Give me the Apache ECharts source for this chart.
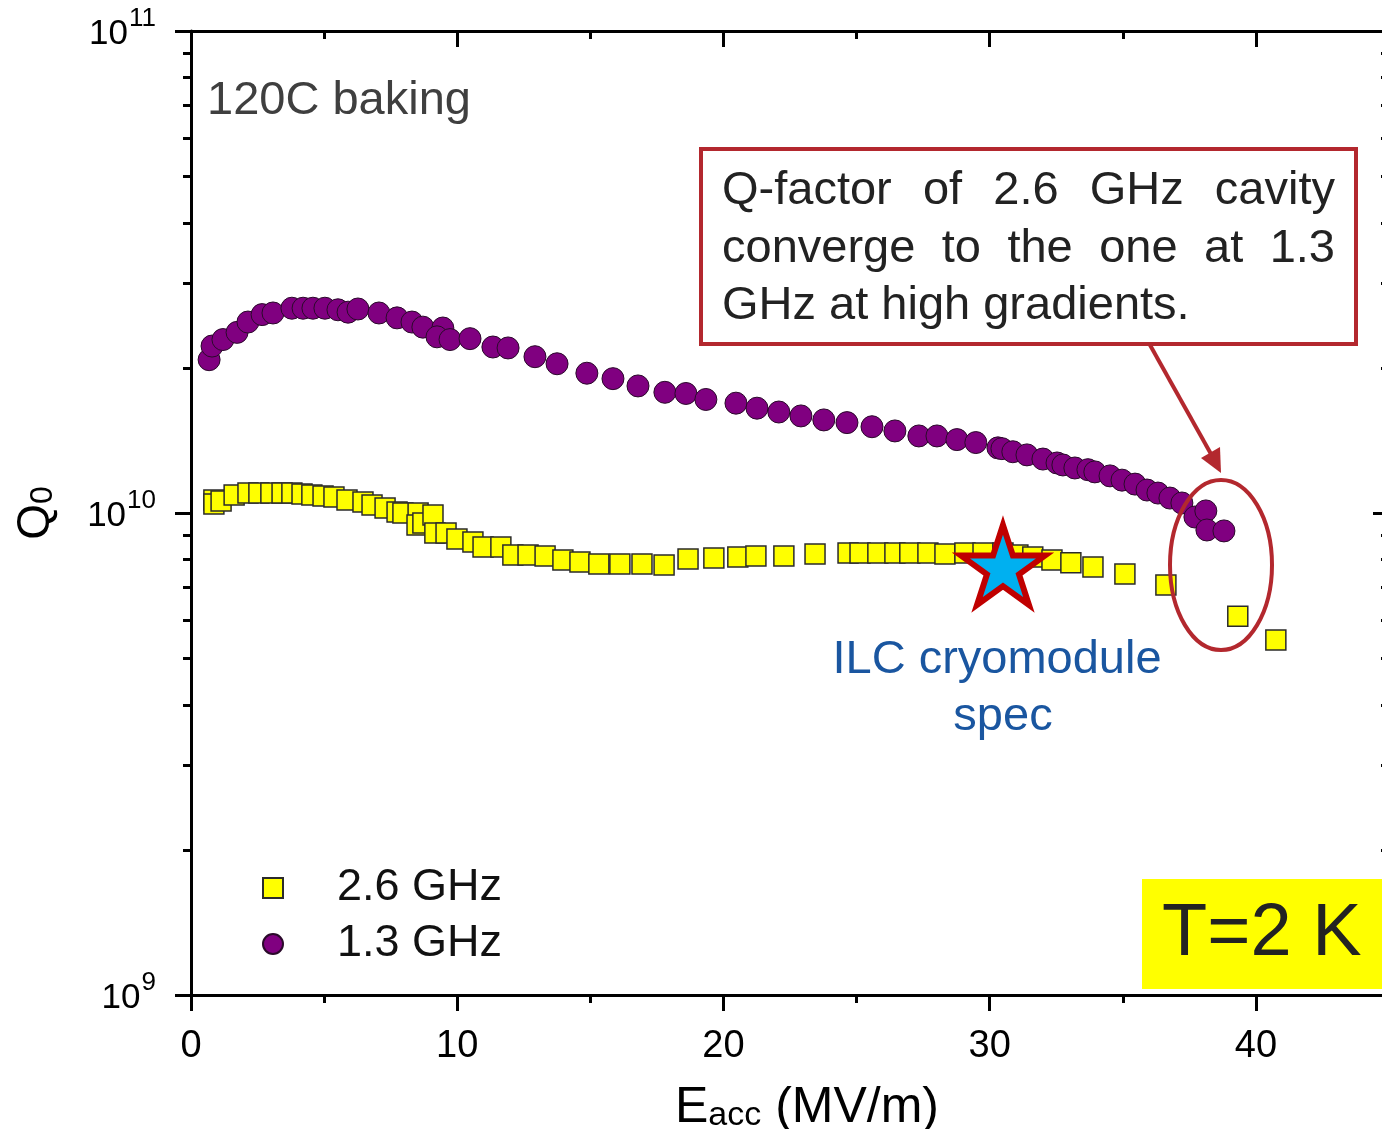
<!DOCTYPE html>
<html>
<head>
<meta charset="utf-8">
<script src="https://cdn.jsdelivr.net/npm/echarts@6/dist/echarts.min.js"></script>
<style>
html,body{margin:0;padding:0;background:#fff;}
#chart{width:1382px;height:1129px;}
</style>
</head>
<body>
<div id="chart"></div>
<script>
// ---------------- data ----------------
const SERIES_NAMES = ['2.6 GHz', '1.3 GHz'];

// 2.6 GHz cavity: Eacc (MV/m) and Q0
const E_26 = [0.86,0.86,1.13,1.62,2.14,2.55,3.00,3.42,3.79,4.17,4.54,4.96,5.37,5.86,6.46,6.80,7.29,7.74,7.96,8.53,
  8.49,8.71,9.09,9.16,9.58,9.99,10.59,10.97,11.64,12.09,12.66,13.30,13.97,14.61,15.32,16.11,16.94,17.77,18.67,19.64,
  20.54,21.22,22.27,23.44,24.68,25.13,25.80,26.44,27.00,27.68,28.32,29.07,29.75,30.50,31.06,31.62,32.34,33.05,33.88,
  35.08,36.62,39.32,40.75];
const Q_26 = [10.64e9,10.44e9,10.59e9,10.9e9,11.0e9,11.0e9,11.0e9,11.0e9,11.0e9,10.95e9,10.9e9,10.85e9,10.8e9,10.64e9,
  10.54e9,10.39e9,10.24e9,10.05e9,10.0e9,10.0e9,9.44e9,9.53e9,9.9e9,9.09e9,9.09e9,8.83e9,8.71e9,8.50e9,8.50e9,8.18e9,
  8.18e9,8.14e9,7.99e9,7.91e9,7.84e9,7.84e9,7.84e9,7.80e9,8.03e9,8.07e9,8.10e9,8.14e9,8.14e9,8.22e9,8.26e9,8.26e9,
  8.26e9,8.26e9,8.26e9,8.26e9,8.22e9,8.26e9,8.26e9,8.26e9,8.18e9,8.10e9,7.99e9,7.88e9,7.73e9,7.47e9,7.09e9,6.11e9,5.45e9];

// 1.3 GHz cavity: Eacc (MV/m) and Q0
const E_13 = [0.68,0.79,1.20,1.73,2.14,2.67,3.08,3.79,4.21,4.58,5.03,5.52,5.90,6.27,7.06,7.74,8.30,8.71,9.46,9.24,
  9.73,10.48,11.34,11.91,12.92,13.75,14.87,15.85,16.79,17.80,18.59,19.34,20.47,21.26,22.08,22.91,23.77,24.64,25.58,
  26.44,27.34,28.02,28.77,29.48,30.31,30.46,30.87,31.40,32.00,32.53,32.75,33.20,33.69,33.95,34.52,34.97,35.46,35.91,
  36.32,36.77,37.22,37.71,38.12,38.16,38.80];
const Q_13 = [2.08e10,2.22e10,2.29e10,2.37e10,2.49e10,2.58e10,2.60e10,2.66e10,2.66e10,2.66e10,2.66e10,2.64e10,2.61e10,
  2.65e10,2.60e10,2.54e10,2.49e10,2.43e10,2.42e10,2.32e10,2.29e10,2.30e10,2.21e10,2.20e10,2.11e10,2.04e10,1.95e10,
  1.90e10,1.835e10,1.78e10,1.77e10,1.72e10,1.69e10,1.65e10,1.62e10,1.59e10,1.56e10,1.54e10,1.51e10,1.48e10,1.445e10,
  1.445e10,1.42e10,1.40e10,1.365e10,1.36e10,1.34e10,1.32e10,1.294e10,1.27e10,1.258e10,1.24e10,1.23e10,1.217e10,
  1.194e10,1.17e10,1.148e10,1.116e10,1.10e10,1.074e10,1.049e10,0.981e10,1.01e10,0.922e10,0.918e10];

// ILC cryomodule spec point (star)
const ILC_SPEC = [30.5, 7.8e9];

// axis ticks
const X_MAJOR = [0, 10, 20, 30, 40];
const X_MINOR = [5, 15, 25, 35, 45];
const Y_MAJOR = [1e9, 1e10, 1e11];
const Y_MINOR = [2e9,3e9,4e9,5e9,6e9,7e9,8e9,9e9,2e10,3e10,4e10,5e10,6e10,7e10,8e10,9e10];

// ---------------- chart ----------------
const FONT = "'Liberation Sans', Arial, Helvetica, sans-serif";
const RED = '#B3282E';

function zip(a, b) { return a.map((v, i) => [v, b[i]]); }

function starPath() {
  let d = '';
  for (let i = 0; i < 10; i++) {
    const ang = (-90 + i * 36) * Math.PI / 180;
    const r = i % 2 ? 38.2 : 100;
    d += (i ? 'L' : 'M') + (r * Math.cos(ang)).toFixed(2) + ' ' + (r * Math.sin(ang)).toFixed(2);
  }
  return 'path://' + d + 'Z';
}

const measureCtx = document.createElement('canvas').getContext('2d');
function justified(words, x0, x1, y, font, color) {
  measureCtx.font = font;
  const w = words.map(s => measureCtx.measureText(s).width);
  const total = w.reduce((a, b) => a + b, 0);
  const gap = words.length > 1 ? (x1 - x0 - total) / (words.length - 1) : 0;
  let x = x0;
  return words.map((s, i) => {
    const el = { type: 'text', x: x, y: y, z: 20,
      style: { text: s, font: font, fill: color, textAlign: 'left', textVerticalAlign: 'middle' } };
    x += w[i] + gap;
    return el;
  });
}

function textEl(text, x, y, size, color, align) {
  return { type: 'text', x: x, y: y, z: 20,
    style: { text: text, font: size + 'px ' + FONT, fill: color, textAlign: align || 'left', textVerticalAlign: 'middle' } };
}

const tickLine = { color: '#000', width: 3 };
const baseLog = { type: 'log', logBase: 10, min: 1e9, max: 1e11, splitLine: { show: false }, minorTick: { show: false } };
const baseX = { type: 'value', min: 0, max: 45, splitLine: { show: false }, minorTick: { show: false } };

const boxFont = '47px ' + FONT;

const option = {
  animation: false,
  backgroundColor: '#fff',
  grid: { left: 191, top: 31, right: -7, bottom: 134, containLabel: false, outerBoundsMode: 'none' },
  legend: {
    data: SERIES_NAMES, orient: 'vertical', left: 257, top: 858,
    itemWidth: 20, itemHeight: 20, itemGap: 6, selectedMode: false,
    textStyle: { fontSize: 45, lineHeight: 46, color: '#111', fontFamily: FONT, padding: [4, 0, 0, 49] }
  },
  xAxis: [
    Object.assign({}, baseX, {
      position: 'bottom',
      axisLine: { show: true, onZero: false, lineStyle: tickLine },
      axisTick: { show: true, length: 16, customValues: X_MAJOR, lineStyle: tickLine },
      axisLabel: { show: true, customValues: X_MAJOR, fontSize: 38, color: '#000', fontFamily: FONT, margin: 33 },
      name: '{e|E}{s|acc}{e| (MV/m)}', nameLocation: 'middle', nameGap: 74,
      nameTextStyle: { padding: [0, 0, 0, 34],
        rich: {
          e: { fontSize: 50, lineHeight: 58, fontFamily: FONT, color: '#000', verticalAlign: 'bottom' },
          s: { fontSize: 34, lineHeight: 30, padding: [28, 0, 0, 0], fontFamily: FONT, color: '#000', verticalAlign: 'bottom' }
        } }
    }),
    Object.assign({}, baseX, {
      position: 'bottom',
      axisLine: { show: false, onZero: false },
      axisTick: { show: true, length: 8, customValues: X_MINOR, lineStyle: tickLine },
      axisLabel: { show: false }
    }),
    Object.assign({}, baseX, {
      position: 'top',
      axisLine: { show: true, onZero: false, lineStyle: tickLine },
      axisTick: { show: true, inside: true, length: 16, customValues: X_MAJOR, lineStyle: tickLine },
      axisLabel: { show: false }
    }),
    Object.assign({}, baseX, {
      position: 'top',
      axisLine: { show: false, onZero: false },
      axisTick: { show: true, inside: true, length: 8, customValues: X_MINOR, lineStyle: tickLine },
      axisLabel: { show: false }
    })
  ],
  yAxis: [
    Object.assign({}, baseLog, {
      position: 'left',
      axisLine: { show: true, onZero: false, lineStyle: tickLine },
      axisTick: { show: true, length: 16, customValues: Y_MAJOR, lineStyle: tickLine },
      axisLabel: {
        show: true, customValues: Y_MAJOR, margin: 35,
        formatter: function (v) { return '{b|10}{s|' + Math.round(Math.log10(v)) + '}'; },
        rich: {
          b: { fontSize: 35, lineHeight: 42, fontFamily: FONT, color: '#000', verticalAlign: 'bottom' },
          s: { fontSize: 26, lineHeight: 22, padding: [0, 0, 20, 1], fontFamily: FONT, color: '#000', verticalAlign: 'bottom' }
        }
      },
      name: '{q|Q}{s|0}', nameLocation: 'middle', nameGap: 132, nameRotate: 90,
      nameTextStyle: {
        rich: {
          q: { fontSize: 46, lineHeight: 58, fontFamily: FONT, color: '#000', verticalAlign: 'bottom' },
          s: { fontSize: 32, lineHeight: 30, padding: [28, 0, 0, 0], fontFamily: FONT, color: '#000', verticalAlign: 'bottom' }
        }
      }
    }),
    Object.assign({}, baseLog, {
      position: 'left',
      axisLine: { show: false, onZero: false },
      axisTick: { show: true, length: 8, customValues: Y_MINOR, lineStyle: tickLine },
      axisLabel: { show: false }
    }),
    Object.assign({}, baseLog, {
      position: 'right',
      axisLine: { show: true, onZero: false, lineStyle: tickLine },
      axisTick: { show: true, inside: true, length: 16, customValues: Y_MAJOR, lineStyle: tickLine },
      axisLabel: { show: false }
    }),
    Object.assign({}, baseLog, {
      position: 'right',
      axisLine: { show: false, onZero: false },
      axisTick: { show: true, inside: true, length: 8, customValues: Y_MINOR, lineStyle: tickLine },
      axisLabel: { show: false }
    })
  ],
  series: [
    {
      name: SERIES_NAMES[0], type: 'scatter', xAxisIndex: 0, yAxisIndex: 0,
      symbol: 'rect', symbolSize: 20, data: zip(E_26, Q_26), z: 3,
      itemStyle: { color: '#FFFF00', borderColor: '#2b2b2b', borderWidth: 1.5, opacity: 1 }
    },
    {
      name: SERIES_NAMES[1], type: 'scatter', xAxisIndex: 0, yAxisIndex: 0,
      symbol: 'circle', symbolSize: 22, data: zip(E_13, Q_13), z: 3,
      itemStyle: { color: '#800080', borderColor: '#2a0a2a', borderWidth: 1, opacity: 1 }
    },
    {
      name: 'ILC cryomodule spec', type: 'scatter', xAxisIndex: 0, yAxisIndex: 0,
      symbol: starPath(), symbolKeepAspect: true, symbolSize: 84, data: [ILC_SPEC], z: 5,
      itemStyle: { color: '#00B0F0', borderColor: '#C00000', borderWidth: 6, borderJoin: 'miter', opacity: 1 }
    }
  ],
  graphic: [].concat(
    [
      textEl('120C baking', 207, 101, 47, '#3f3f3f'),
      { type: 'rect', z: 19, shape: { x: 701, y: 149, width: 655, height: 195 },
        style: { fill: '#fff', stroke: RED, lineWidth: 4 } },
      { type: 'line', z: 19, shape: { x1: 1150, y1: 345, x2: 1211, y2: 454 },
        style: { stroke: RED, lineWidth: 4 } },
      { type: 'polygon', z: 19, shape: { points: [[1221, 473], [1201, 458], [1220, 447]] },
        style: { fill: RED } },
      { type: 'ellipse', z: 19, shape: { cx: 1221, cy: 565, rx: 51, ry: 85 },
        style: { fill: 'none', stroke: RED, lineWidth: 4 } },
      textEl('ILC cryomodule', 997, 660, 47, '#1A56A0', 'center'),
      textEl('spec', 1003, 717, 47, '#1A56A0', 'center'),
      { type: 'rect', z: 19, shape: { x: 1142, y: 879, width: 250, height: 110 },
        style: { fill: '#FFFF00' } },
      textEl('T=2 K', 1162, 935, 74, '#222')
    ],
    justified(['Q-factor', 'of', '2.6', 'GHz', 'cavity'], 722, 1335, 191, boxFont, '#222'),
    justified(['converge', 'to', 'the', 'one', 'at', '1.3'], 722, 1335, 249, boxFont, '#222'),
    [{ type: 'text', x: 722, y: 306, z: 20,
       style: { text: 'GHz at high gradients.', font: boxFont, fill: '#222', textAlign: 'left', textVerticalAlign: 'middle' } }]
  )
};

const chart = echarts.init(document.getElementById('chart'), null, { renderer: 'canvas' });
chart.setOption(option);
</script>
</body>
</html>
